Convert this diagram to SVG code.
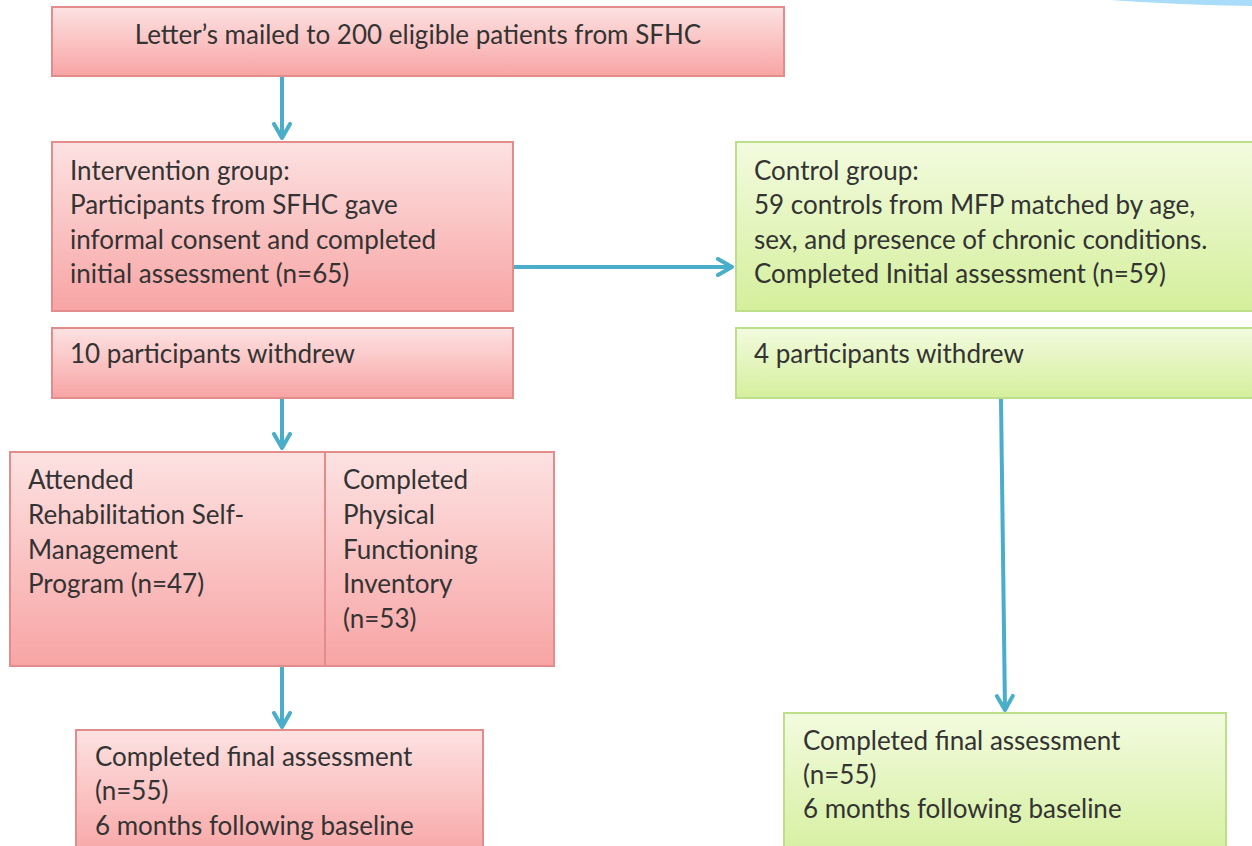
<svg xmlns="http://www.w3.org/2000/svg" width="1252" height="846" viewBox="0 0 1252 846">
<defs>
<linearGradient id="pink" x1="0" y1="0" x2="0" y2="1">
<stop offset="0" stop-color="#fde2e2"/>
<stop offset="1" stop-color="#f8a4a4"/>
</linearGradient>
<linearGradient id="green" x1="0" y1="0" x2="0" y2="1">
<stop offset="0" stop-color="#f3fbdf"/>
<stop offset="1" stop-color="#d4ef9c"/>
</linearGradient>
<marker id="arr" viewBox="0 0 10 10" refX="8" refY="5" markerWidth="5" markerHeight="5" orient="auto" markerUnits="strokeWidth">
<path d="M1,1 L8,5 L1,9" fill="none" stroke="#4aaecb" stroke-width="2" stroke-linecap="round" stroke-linejoin="round"/>
</marker>
</defs>
<style>
.p{fill:url(#pink);stroke:#e38c8c;stroke-width:2}
.g{fill:url(#green);stroke:#bddf8a;stroke-width:2}
.t{font-family:Lato,"Open Sans",sans-serif;font-size:26px;fill:#333}
.c{stroke:#4aaecb;stroke-width:4;fill:none;marker-end:url(#arr)}
</style>
<rect width="1252" height="846" fill="#fff"/>
<path d="M1110,0 Q1180,5 1252,6 L1252,0 Z" fill="#a8dcf8"/>
<g id="n1"><rect class="p" x="52" y="7" width="732" height="69"/><text class="t" x="418" y="44" text-anchor="middle">Letter’s mailed to 200 eligible patients from SFHC</text></g>
<g id="n2"><rect class="p" x="52" y="142" width="461" height="169"/><text class="t" x="70"><tspan x="70" y="180">Intervention group:</tspan><tspan x="70" y="214">Participants from SFHC gave</tspan><tspan x="70" y="249">informal consent and completed</tspan><tspan x="70" y="283">initial assessment (n=65)</tspan></text></g>
<g id="n3"><rect class="g" x="736" y="142" width="520" height="169"/><text class="t"><tspan x="754" y="180">Control group:</tspan><tspan x="754" y="214">59 controls from MFP matched by age,</tspan><tspan x="754" y="249">sex, and presence of chronic conditions.</tspan><tspan x="754" y="283">Completed Initial assessment (n=59)</tspan></text></g>
<g id="n4"><rect class="p" x="52" y="328" width="461" height="70"/><text class="t" x="70" y="363">10 participants withdrew</text></g>
<g id="n5"><rect class="g" x="736" y="328" width="520" height="70"/><text class="t" x="754" y="363">4 participants withdrew</text></g>
<g id="n6"><rect class="p" x="10" y="452" width="315" height="214"/><text class="t"><tspan x="28" y="489">Attended</tspan><tspan x="28" y="524">Rehabilitation Self-</tspan><tspan x="28" y="559">Management</tspan><tspan x="28" y="593">Program (n=47)</tspan></text></g>
<g id="n7"><rect class="p" x="325" y="452" width="229" height="214"/><text class="t"><tspan x="343" y="489">Completed</tspan><tspan x="343" y="524">Physical</tspan><tspan x="343" y="559">Functioning</tspan><tspan x="343" y="593">Inventory</tspan><tspan x="343" y="628">(n=53)</tspan></text></g>
<g id="n8"><rect class="p" x="76" y="730" width="407" height="130"/><text class="t"><tspan x="95" y="766">Completed final assessment</tspan><tspan x="95" y="800">(n=55)</tspan><tspan x="95" y="835">6 months following baseline</tspan></text></g>
<g id="n9"><rect class="g" x="784" y="713" width="442" height="150"/><text class="t"><tspan x="803" y="750">Completed final assessment</tspan><tspan x="803" y="784">(n=55)</tspan><tspan x="803" y="818">6 months following baseline</tspan></text></g>
<g id="connectors">
<path class="c" d="M282,77 V138"/>
<path class="c" d="M514,267 H732"/>
<path class="c" d="M282,399 V448"/>
<path class="c" d="M282,667 V727"/>
<path class="c" d="M1001,399 L1005,710"/>
</g>
</svg>
